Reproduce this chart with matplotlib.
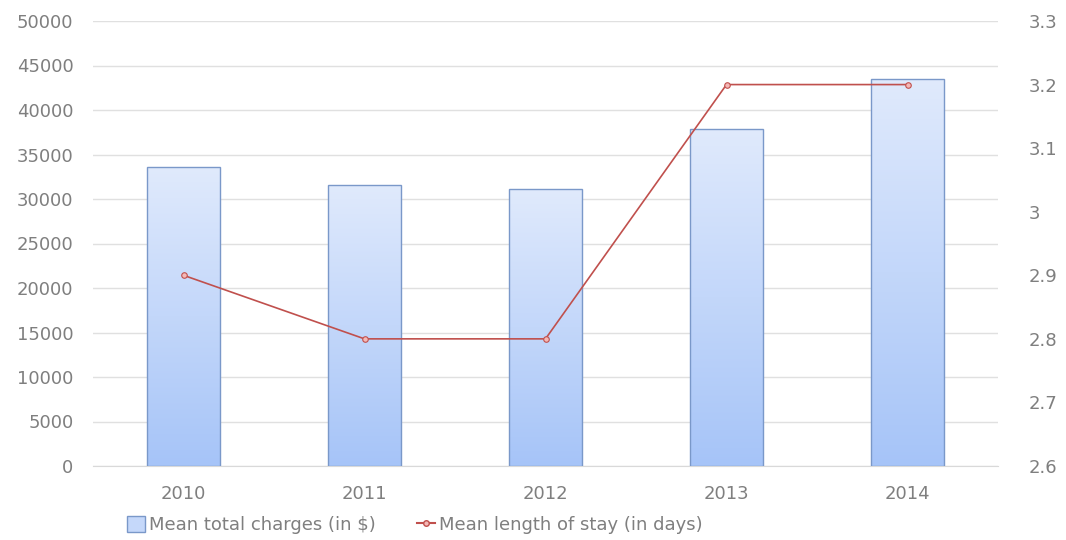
import matplotlib
matplotlib.use("Agg")
import matplotlib.pyplot as plt
import numpy as np
from matplotlib.lines import Line2D
from matplotlib.patches import Patch
from matplotlib.colors import LinearSegmentedColormap

years = ["2010", "2011", "2012", "2013", "2014"]
charges = [33600, 31600, 31100, 37900, 43500]
stay = [2.9, 2.8, 2.8, 3.2, 3.2]

plt.rcParams['font.family'] = ['DejaVu Sans']
gray = '#7f7f7f'

fig = plt.figure(figsize=(10.66, 5.4), dpi=100)
ax = fig.add_axes([93/1066, 1-466/540, (998-93)/1066, (466-21)/540])
x = np.arange(len(years))
bars = ax.bar(x, charges, width=0.4, facecolor='none', edgecolor='#7a98c9', linewidth=1.0, zorder=3)
grad = np.linspace(0, 1, 256).reshape(-1, 1)
cmap = LinearSegmentedColormap.from_list('g', ['#e0eafc', '#a6c4f8'])
for b in bars:
    im = ax.imshow(grad, extent=[b.get_x(), b.get_x()+b.get_width(), 0, b.get_height()],
                   aspect='auto', cmap=cmap, zorder=2, origin='upper')
    im.set_clip_path(b)
ax.set_xlim(-0.5, 4.5)
ax.set_ylim(0, 50000)
ax.set_yticks(np.arange(0, 50001, 5000))
ax.set_xticks(x)
ax.set_xticklabels(years)
ax.grid(axis='y', color='#e0e0e0', linewidth=1.0, zorder=0)
ax.set_axisbelow(True)
for s in ['left', 'right', 'top']:
    ax.spines[s].set_visible(False)
ax.spines['bottom'].set_color('#d9d9d9')
ax.tick_params(axis='both', length=0, labelsize=13, colors=gray)
ax.tick_params(axis='x', pad=14)
ax.tick_params(axis='y', pad=14)

ax2 = ax.twinx()
ax2.plot(x, stay, color='#c0504d', linewidth=1.2, marker='o', markersize=4,
         markerfacecolor='#f4b8b6', markeredgecolor='#c0504d', markeredgewidth=0.8, zorder=5)
ax2.set_ylim(2.6, 3.3)
ax2.set_yticks(np.round(np.arange(2.6, 3.31, 0.1), 1))
ax2.set_yticklabels(['2.6', '2.7', '2.8', '2.9', '3', '3.1', '3.2', '3.3'])
for s in ['left', 'right', 'top', 'bottom']:
    ax2.spines[s].set_visible(False)
ax2.tick_params(axis='y', length=0, labelsize=13, colors=gray, pad=22)

handles = [Patch(facecolor='#c5d8fa', edgecolor='#7a98c9', label='Mean total charges (in $)'),
           Line2D([0], [0], color='#c0504d', marker='o', markersize=4, markerfacecolor='#f4b8b6',
                  markeredgecolor='#c0504d', label='Mean length of stay (in days)')]
fig.legend(handles=handles, loc='center left', bbox_to_anchor=(111/1066, 1-525/540), ncol=2,
           frameon=False, fontsize=13, labelcolor=gray, handlelength=1.0, handletextpad=0.2,
           columnspacing=2.3, handleheight=1.0)

fig.savefig('out.png', dpi=100)
